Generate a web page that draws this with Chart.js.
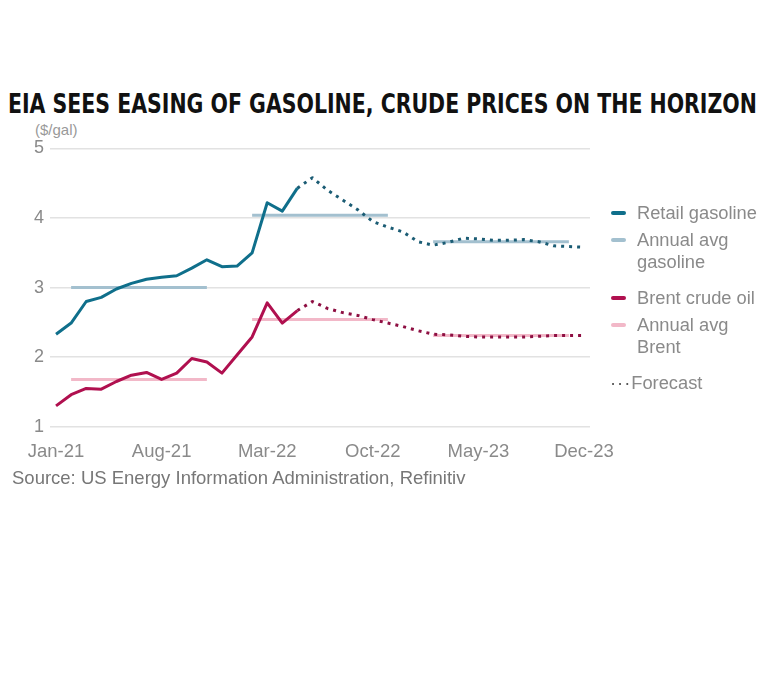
<!DOCTYPE html>
<html>
<head>
<meta charset="utf-8">
<script src="https://cdn.jsdelivr.net/npm/chart.js@4.4.1/dist/chart.umd.min.js"></script>
<style>
  body { margin:0; background:#fff; width:757px; height:681px; overflow:hidden; position:relative; font-family:"Liberation Sans", Arial, sans-serif; }
  #title { position:absolute; left:8px; top:88px; font-family:"DejaVu Sans Condensed","DejaVu Sans",sans-serif; font-weight:bold; font-size:27px; color:#111; white-space:nowrap; transform-origin:0 0; }
  #unit { position:absolute; left:35px; top:121px; font-size:15px; color:#999; }
  #source { position:absolute; left:12px; top:467px; font-size:18.5px; color:#777; white-space:nowrap; }
  #wrap { position:absolute; left:0; top:120px; width:640px; height:360px; }
  .lg { position:absolute; left:611px; font-size:18.3px; color:#8a8a8a; line-height:22px; white-space:nowrap; }
  .sw { position:absolute; left:0; top:9px; width:15px; height:4px; border-radius:2px; }
  .lg span.t { margin-left:26px; display:block; }
</style>
</head>
<body>
<div id="title">EIA SEES EASING OF GASOLINE, CRUDE PRICES ON THE HORIZON</div>
<div id="unit">($/gal)</div>
<div id="wrap"><canvas id="chart"></canvas></div>
<div class="lg" style="top:202px"><div class="sw" style="background:#0f6f8b"></div><span class="t">Retail gasoline</span></div>
<div class="lg" style="top:229px"><div class="sw" style="background:#a3c0cf"></div><span class="t">Annual avg<br>gasoline</span></div>
<div class="lg" style="top:287px"><div class="sw" style="background:#b0104f"></div><span class="t">Brent crude oil</span></div>
<div class="lg" style="top:314px"><div class="sw" style="background:#f2b8c8"></div><span class="t">Annual avg<br>Brent</span></div>
<div class="lg" style="top:372px;left:610px"><span style="color:#555;letter-spacing:1px">···</span>Forecast</div>
<div id="source">Source: US Energy Information Administration, Refinitiv</div>
<script>
// Datos: mensual ene-21 a dic-23 ($/gal)
const months = ['Jan-21','Feb-21','Mar-21','Apr-21','May-21','Jun-21','Jul-21','Aug-21','Sep-21','Oct-21','Nov-21','Dec-21',
  'Jan-22','Feb-22','Mar-22','Apr-22','May-22','Jun-22','Jul-22','Aug-22','Sep-22','Oct-22','Nov-22','Dec-22',
  'Jan-23','Feb-23','Mar-23','Apr-23','May-23','Jun-23','Jul-23','Aug-23','Sep-23','Oct-23','Nov-23','Dec-23'];
const tickMonths = ['Jan-21','Aug-21','Mar-22','Oct-22','May-23','Dec-23'];
const gasoline = [2.33,2.49,2.80,2.86,2.98,3.06,3.12,3.15,3.17,3.28,3.40,3.30,
  3.31,3.50,4.22,4.10,4.43,4.58,4.40,4.26,4.12,3.95,3.87,3.80,
  3.66,3.61,3.65,3.71,3.70,3.68,3.68,3.69,3.66,3.60,3.59,3.58];
const brent = [1.30,1.46,1.55,1.54,1.65,1.74,1.78,1.68,1.77,1.98,1.93,1.77,
  2.03,2.29,2.78,2.49,2.67,2.80,2.70,2.64,2.60,2.54,2.49,2.44,
  2.38,2.33,2.32,2.30,2.29,2.29,2.29,2.29,2.30,2.31,2.31,2.31];
const lastActual = 'May-22';
const avgGasoline = [3.00, 4.04, 3.66];
const avgBrent = [1.68, 2.54, 2.31];
const avgFrom = ['Feb-21','Feb-22','Feb-23'];
const avgTo = ['Nov-21','Nov-22','Nov-23'];

// titulo: ajustar al ancho
const title = document.getElementById('title');
title.style.transform = 'scaleX(' + (749 / title.offsetWidth) + ')';

const cut = months.indexOf(lastActual);
function pts(arr, a, b){ const out=[]; for(let i=a;i<=b;i++) out.push({x:i,y:arr[i]}); return out; }
function avgPts(vals){
  const out=[];
  vals.forEach((v,k)=>{
    out.push({x:months.indexOf(avgFrom[k]),y:v},{x:months.indexOf(avgTo[k]),y:v});
    out.push({x:months.indexOf(avgTo[k])+0.5,y:null});
  });
  return out;
}

const GAS='#0f6f8b', GAS_F='#1b5c74', GAS_A='#a3c0cf';
const BR='#b0104f', BR_F='#8e0f42', BR_A='#f2b8c8';
const dots=[3,5];

new Chart(document.getElementById('chart').getContext('2d'), {
  type:'line',
  data:{ datasets:[
    { data:pts(gasoline,0,cut), borderColor:GAS, borderWidth:3, order:1 },
    { data:pts(gasoline,cut,months.length-1), borderColor:GAS_F, borderWidth:3, borderDash:dots, order:1 },
    { data:pts(brent,0,cut), borderColor:BR, borderWidth:3, order:1 },
    { data:pts(brent,cut,months.length-1), borderColor:BR_F, borderWidth:3, borderDash:dots, order:1 },
    { data:avgPts(avgGasoline), borderColor:GAS_A, borderWidth:3, spanGaps:false, order:2 },
    { data:avgPts(avgBrent), borderColor:BR_A, borderWidth:3, spanGaps:false, order:2 }
  ]},
  options:{
    animation:false, responsive:true, maintainAspectRatio:false,
    elements:{ point:{ radius:0 }, line:{ tension:0, borderJoinStyle:'round' } },
    layout:{ padding:{ top:28.5, right:50 } },
    plugins:{ legend:{ display:false }, tooltip:{ enabled:false } },
    scales:{
      x:{ type:'linear', min:-0.4, max:35.4,
        grid:{ display:false, drawTicks:false }, border:{ display:false },
        afterBuildTicks:s=>{ s.ticks = tickMonths.map(m=>({ value:months.indexOf(m) })); },
        afterFit:s=>{ s.height = 53.3; s.paddingLeft = 0; s.paddingRight = 0; },
        ticks:{ padding:14, color:'#8a8a8a', font:{ family:'Liberation Sans', size:18.5 }, maxRotation:0,
          callback:v=>months[v] }
      },
      y:{ min:1, max:5,
        grid:{ color:'#e2e2e2', lineWidth:1.5, drawTicks:false }, border:{ display:false },
        afterFit:s=>{ s.width = 50; },
        ticks:{ stepSize:1, padding:6, color:'#8a8a8a', font:{ family:'Liberation Sans', size:18 } }
      }
    }
  }
});
</script>
</body>
</html>
